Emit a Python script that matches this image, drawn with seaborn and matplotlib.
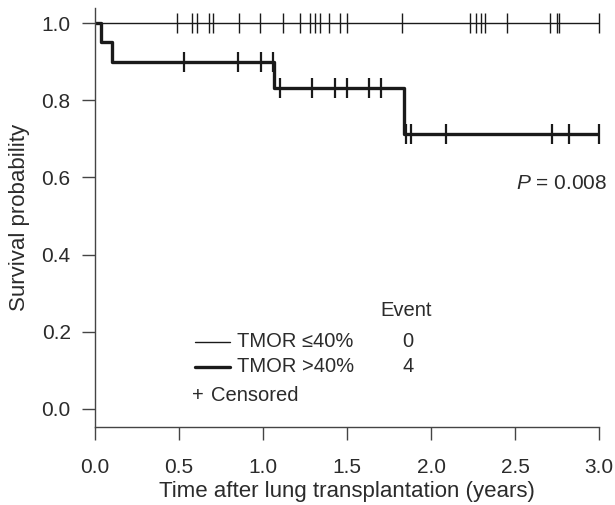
import numpy as np
import pandas as pd
import matplotlib
matplotlib.use('Agg')
import matplotlib.pyplot as plt
import seaborn as sns

# Kaplan-Meier steps
low_times = [0.0, 3.0]
low_surv = [1.0, 1.0]
low_censored = [0.49, 0.58, 0.61, 0.68, 0.70, 0.86, 0.98, 1.12, 1.22, 1.28, 1.31,
                1.34, 1.39, 1.46, 1.50, 1.83, 2.23, 2.27, 2.30, 2.32, 2.45, 2.71,
                2.75, 2.76, 3.0]

high_times = [0.0, 0.036, 0.099, 1.067, 1.838, 3.0]
high_surv = [1.0, 0.95, 0.90, 0.831, 0.712, 0.712]
high_censored = [0.53, 0.85, 0.99, 1.06, 1.10, 1.29, 1.43, 1.50, 1.63, 1.70,
                 1.85, 1.88, 2.09, 2.72, 2.82, 3.0]

groups = ['TMOR ≤40%', 'TMOR >40%']
events = [0, 4]
p_text = r'$\mathit{P}$ = 0.008'

sns.set_theme(style='ticks')
plt.rcParams['font.family'] = ['Liberation Sans', 'DejaVu Sans']
plt.rcParams['mathtext.fontset'] = 'custom'
plt.rcParams['mathtext.it'] = 'Liberation Sans:italic'
plt.rcParams['mathtext.rm'] = 'Liberation Sans'
ink = '#1a1a1a'
txt = '#2b2b2b'
fs = 15
leg_fs = 14.5


def step_value(times, surv, t):
    idx = np.searchsorted(times, t, side='right') - 1
    return np.array(surv)[idx]


curves = pd.concat([
    pd.DataFrame({'time': low_times, 'surv': low_surv, 'group': groups[0]}),
    pd.DataFrame({'time': high_times, 'surv': high_surv, 'group': groups[1]}),
])
marks = pd.concat([
    pd.DataFrame({'time': low_censored,
                  'surv': step_value(low_times, low_surv, low_censored),
                  'group': groups[0]}),
    pd.DataFrame({'time': high_censored,
                  'surv': step_value(high_times, high_surv, high_censored),
                  'group': groups[1]}),
])

fig = plt.figure(figsize=(6.15, 5.05), dpi=100)
ax = fig.add_axes([0.1545, 0.1545, 0.8195, 0.8295])

widths = {groups[0]: 1.0, groups[1]: 2.4}
for g in groups:
    sns.lineplot(data=curves[curves['group'] == g], x='time', y='surv',
                 drawstyle='steps-post', color=ink, linewidth=widths[g],
                 ax=ax, legend=False)
    m = marks[marks['group'] == g]
    ax.plot(m['time'], m['surv'], linestyle='none', marker='|', color=ink,
            markersize=14, markeredgewidth=1.0 if g == groups[0] else 1.6,
            clip_on=False)

ax.set_xlim(0, 3.0)
ax.set_ylim(-0.047, 1.039)
ax.set_xticks(np.arange(0, 3.01, 0.5))
ax.set_yticks(np.arange(0, 1.01, 0.2))
ax.xaxis.set_major_formatter(matplotlib.ticker.FormatStrFormatter('%.1f'))
ax.yaxis.set_major_formatter(matplotlib.ticker.FormatStrFormatter('%.1f'))
sns.despine(ax=ax)
for s in ['left', 'bottom']:
    ax.spines[s].set_color('#444444')
    ax.spines[s].set_linewidth(1.0)
ax.tick_params(length=9.5, width=1.0, color='#444444', labelsize=fs,
               labelcolor=txt)
ax.tick_params(axis='x', pad=13)
ax.tick_params(axis='y', pad=8)
ax.set_xlabel('Time after lung transplantation (years)', fontsize=16,
              color=txt, labelpad=3)
ax.set_ylabel('Survival probability', fontsize=16, color=txt, labelpad=8)

# legend drawn by hand like the R survival plot
ax.text(1.85, 0.254, 'Event', fontsize=leg_fs, color=txt, ha='center', va='center')
rows = [0.174, 0.109]
for g, n, yy in zip(groups, events, rows):
    ax.plot([0.595, 0.804], [yy, yy], color=ink, linewidth=widths[g])
    ax.text(0.845, yy, g, fontsize=leg_fs, color=txt, va='center')
    ax.text(1.863, yy, str(n), fontsize=leg_fs, color=txt, ha='center', va='center')
ax.text(0.58, 0.034, '+', fontsize=leg_fs, color=txt, va='center')
ax.text(0.69, 0.034, 'Censored', fontsize=leg_fs, color=txt, va='center')

ax.text(3.048, 0.585, p_text, fontsize=fs, color=txt, ha='right', va='center')

fig.savefig('out.png', dpi=100, facecolor='white')
